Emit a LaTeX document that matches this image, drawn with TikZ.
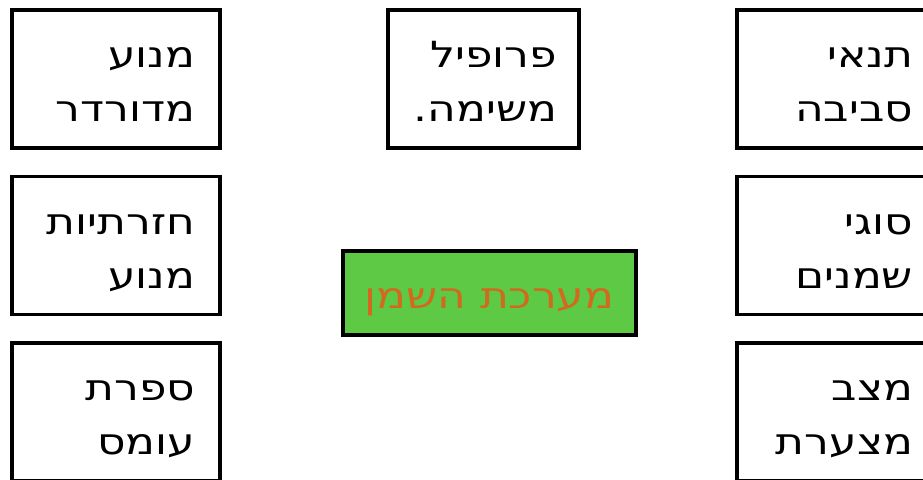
\documentclass[tikz,border=0pt]{standalone}
\usepackage{fontspec}
\setmainfont{DejaVu Sans}
\newfontfamily\hebfont[Script=Hebrew,FakeStretch=1.22]{DejaVu Sans}
\TeXXeTstate=1
\usepackage{xcolor}
\usetikzlibrary{positioning}
\definecolor{coregreen}{HTML}{5DC944}
\definecolor{coretext}{HTML}{D2691E}
\newcommand\rowstrut{\rule[-9pt]{0pt}{49pt}}
\newcommand\heb[1]{\rowstrut\beginR #1\endR}

\begin{document}
\begin{tikzpicture}[x=1pt,y=-1pt,
  factor/.style={draw,line width=3.5pt,minimum width=208pt,minimum height=138pt,
    inner xsep=25pt,inner ysep=0pt,text width=158pt,align=right,
    font=\hebfont\fontsize{36}{54}\selectfont},
  core/.style={draw,line width=3.5pt,fill=coregreen,text=coretext,
    minimum width=293pt,minimum height=84pt,inner ysep=0pt,
    font=\hebfont\fontsize{36}{54}\selectfont}]
  \useasboundingbox (0,0) rectangle (923,479);
  \clip (0,0) rectangle (923,479);
  % left column
  \node[factor] (engine) at (116,79) {\heb{מנוע}\\\heb{מדורדר}};
  \node[factor] (rpm) at (116,245.5) {\heb{חזרתיות}\\\heb{מנוע}};
  \node[factor] (load) at (116,412) {\heb{ספרת}\\\heb{עומס}};
  % middle
  \node[factor,minimum width=191pt,inner xsep=22pt,text width=147pt]
    (mission) at (483.5,79) {\heb{פרופיל}\\\heb{משימה.}};
  \node[core] (oil) at (489.5,293) {\heb{מערכת השמן}};
  % right column
  \node[factor,inner xsep=32pt,text width=144pt] (env) at (841,79) {\heb{תנאי}\\\heb{סביבה}};
  \node[factor,inner xsep=32pt,text width=144pt] (oils) at (841,245.5) {\heb{סוגי}\\\heb{שמנים}};
  \node[factor,inner xsep=32pt,text width=144pt] (stack) at (841,412) {\heb{מצב}\\\heb{מצערת}};
\end{tikzpicture}
\end{document}
